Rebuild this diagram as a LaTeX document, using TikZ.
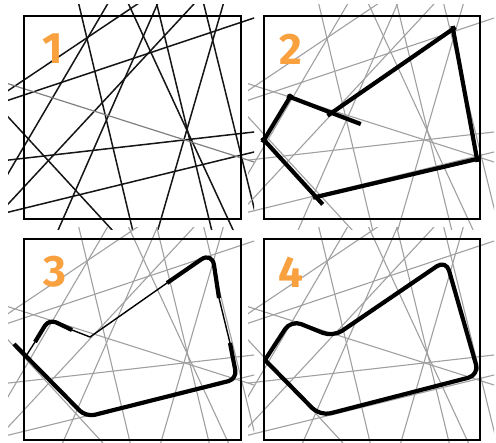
\documentclass[tikz,border=0pt]{standalone}
\usepackage{fontspec}
\newfontfamily\labfont{Fira Sans}
\definecolor{numorange}{HTML}{F9A03F}
\definecolor{linegray}{HTML}{A0A0A0}
\definecolor{darkline}{HTML}{151515}
\newcommand\alllines[1]{%
  \foreach \ax/\ay/\bx/\by in {79/5/130/219, 9/100/254/18, 9/90/136/5, 10/119/102/219,
      10/202/193/5, 9/160/254/132, 9/212/254/152, 157/5/63/219, 107/5/9/172,
      204/5/241/155, 223/5/161/219, 129/5/228/219, 157/5/209/219}
    {\draw[#1, shorten <=-150pt, shorten >=-150pt] (\ax,\ay) -- (\bx,\by);}}
\tikzset{
  blackline/.style={line width=1.5pt, darkline},
  grayline/.style={line width=1.1pt, linegray},
  frame/.style={line width=1.8pt, black},
  lab/.style={inner sep=0pt, text=numorange, font=\labfont\bfseries\fontsize{44}{44}\selectfont},
  thickseg/.style={line width=4.2pt, black, line cap=butt, shorten <=-3pt, shorten >=-3pt},
  thickcurve/.style={line width=4.2pt, black, line cap=butt, line join=round},
  thinblack/.style={line width=1.4pt, black}
}
\begin{document}
\begin{tikzpicture}[x=1pt,y=-1pt]
\useasboundingbox (0,0) rectangle (496,443);
\fill[white] (0,0) rectangle (496,443);
% ---------- panel 1
\begin{scope}
  \clip (8,5) rectangle (254,230);
  \alllines{blackline}
  \draw[line width=1.2pt, color=gray, shorten <=-150pt, shorten >=-150pt] (9,84) -- (254,162);
\end{scope}
\draw[frame] (24,16) rectangle (241,219);
\node[lab] (n1) at (53,49) {1};
% ---------- panels 2,3,4 gray lines
\foreach \dx/\dy in {240/0, 0/223, 240/223}{
  \begin{scope}[shift={(\dx,\dy)}]
    \clip (8,5) rectangle (254,230);
    \alllines{grayline}
    \draw[grayline, shorten <=-150pt, shorten >=-150pt] (9,84) -- (254,162);
  \end{scope}
}
\draw[frame] (264,16) rectangle (480,219);
\draw[frame] (24,239) rectangle (241,440);
\draw[frame] (264,239) rectangle (480,440);
\node[lab] (n2) at (290.5,49) {2};
\node[lab] (n3) at (55,272) {3};
\node[lab] (n4) at (290.5,272) {4};
% ---------- panel 2 polygon
\coordinate (a1) at (453,29);
\coordinate (a2) at (477,159);
\coordinate (a3) at (316,197);
\coordinate (a4) at (264,140);
\coordinate (a5) at (290,97);
\coordinate (a0) at (330,114);
\coordinate (a6) at (358,123);
\draw[thickseg] (a4) -- (a5);
\draw[thickseg] (a5) -- (a6);
\draw[thickseg] (a0) -- (a1);
\draw[thickseg] (a1) -- (a2);
\draw[thickseg] (a2) -- (a3);
\draw[thickseg, shorten >=-10pt] (a4) -- (a3);
% ---------- panel 3 partial contour
\coordinate (b1) at (212,252);
\coordinate (b2) at (237,379);
\coordinate (b3) at (86,417);
\coordinate (b5) at (49,319);
\coordinate (b0) at (90,337);
\coordinate (bs) at (14,344);
\coordinate (br1) at (230,343);
\coordinate (br2) at (219,298);
\coordinate (bt) at (167,283);
\coordinate (bl1) at (72,330);
\coordinate (bl2) at (35,342);
\coordinate (bl3) at (26,356);
\draw[thickcurve, rounded corners=9pt] (bs) -- (b3) -- (b2) -- (br1);
\draw[thinblack] (br1) -- (br2);
\draw[thickcurve, rounded corners=13pt] (br2) -- (b1) -- (bt);
\draw[thinblack] (bt) -- (b0) -- (bl1);
\draw[thickcurve, rounded corners=8pt] (bl1) -- (b5) -- (bl2);
\draw[thinblack] (bl2) -- (bl3);
% ---------- panel 4 smooth contour
\coordinate (c4) at (265,360);
\coordinate (c5) at (291,320);
\coordinate (c0) at (333,337);
\coordinate (c1) at (446,260);
\coordinate (c2) at (479,375);
\coordinate (c3) at (320,416);
\draw[line width=4.2pt, black, line cap=round, line join=round, rounded corners=11pt]
  (c4) -- (c5) -- (c0) -- (c1) -- (c2) -- (c3) -- (c4);
\end{tikzpicture}
\end{document}
